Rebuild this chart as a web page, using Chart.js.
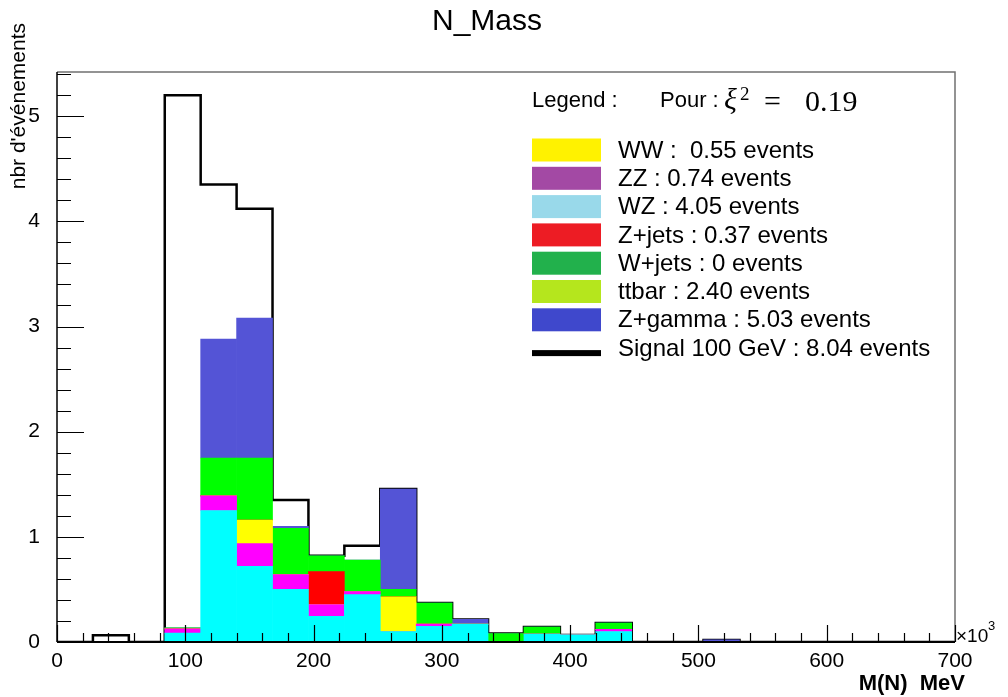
<!DOCTYPE html>
<html>
<head>
<meta charset="utf-8">
<script src="https://cdn.jsdelivr.net/npm/chart.js@4.4.1/dist/chart.umd.min.js"></script>
<style>
  html, body { margin: 0; padding: 0; background: #fff; }
</style>
</head>
<body>
<canvas id="c" width="1008" height="697"></canvas>
<script>
// lower edge of each bin (x in units of 10^3 MeV), last edge closes the histogram
const binLow = [0, 28, 56, 84, 112, 140, 168, 196, 224, 252, 280, 308, 336, 364, 392, 420, 448, 476, 504, 532, 560, 588, 616, 644, 672];
const binHigh = 700;
const binCenters = [14, 42, 70, 98, 126, 154, 182, 210, 238, 266, 294, 322, 350, 378, 406, 434, 462, 490, 518, 546, 574, 602, 630, 658, 686];

// background contributions, bottom of the stack first
const wz     = [0, 0, 0, 0.085, 1.25, 0.72, 0.50, 0.245, 0.45, 0.10, 0.15, 0.17, 0, 0.076, 0.067, 0.10, 0, 0, 0, 0, 0, 0, 0, 0, 0];
const zz     = [0, 0, 0, 0.04, 0.14, 0.215, 0.14, 0.11, 0.03, 0, 0.02, 0, 0, 0, 0, 0.02, 0, 0, 0, 0, 0, 0, 0, 0, 0];
const ww     = [0, 0, 0, 0, 0, 0.225, 0, 0, 0, 0.33, 0, 0, 0, 0, 0, 0, 0, 0, 0, 0, 0, 0, 0, 0, 0];
const zjets  = [0, 0, 0, 0, 0, 0, 0, 0.315, 0, 0, 0, 0, 0, 0, 0, 0, 0, 0, 0, 0, 0, 0, 0, 0, 0];
const wjets  = [0, 0, 0, 0, 0, 0, 0, 0, 0, 0, 0, 0, 0, 0, 0, 0, 0, 0, 0, 0, 0, 0, 0, 0, 0];
const ttbar  = [0, 0, 0, 0.01, 0.36, 0.59, 0.44, 0.15, 0.30, 0.07, 0.20, 0, 0.08, 0.067, 0, 0.06, 0, 0, 0, 0, 0, 0, 0, 0, 0];
const zgamma = [0, 0, 0, 0, 1.13, 1.33, 0.02, 0, 0, 0.955, 0, 0.045, 0, 0, 0, 0, 0, 0, 0.02, 0, 0, 0, 0, 0, 0];
// signal outline
const signal = [0, 0.065, 0, 5.2, 4.35, 4.12, 1.35, 0.82, 0.915, 1.455, 0.37, 0.215, 0.08, 0.143, 0.067, 0.18, 0, 0, 0.02, 0, 0, 0, 0, 0, 0];

const xTicks = [0, 100, 200, 300, 400, 500, 600, 700];
const yTicks = [0, 1, 2, 3, 4, 5];
const yMax = 5.42;

// legend, in the order it is printed
const legendNames  = ['WW', 'ZZ', 'WZ', 'Z+jets', 'W+jets', 'ttbar', 'Z+gamma', 'Signal 100 GeV'];
const legendTexts  = ['WW :  0.55 events', 'ZZ : 0.74 events', 'WZ : 4.05 events', 'Z+jets : 0.37 events',
                      'W+jets : 0 events', 'ttbar : 2.40 events', 'Z+gamma : 5.03 events', 'Signal 100 GeV : 8.04 events'];
const legendColors = ['#FFF200', '#A349A4', '#99D9EA', '#ED1C24', '#22B14C', '#B5E61D', '#3F48CC', '#000000'];

const SANS = '"Liberation Sans", Arial, sans-serif';
const SERIF = '"Liberation Serif", "Times New Roman", serif';

const stack = [
    { label: 'WZ', values: wz, color: '#00FFFF' },
    { label: 'ZZ', values: zz, color: '#FF00FF' },
    { label: 'WW', values: ww, color: '#FFFF00' },
    { label: 'Z+jets', values: zjets, color: '#FF0000' },
    { label: 'W+jets', values: wjets, color: '#00C000' },
    { label: 'ttbar', values: ttbar, color: '#00FF00' },
    { label: 'Z+gamma', values: zgamma, color: '#5454D6' },
];

// each point opens its bin; with stepped 'before' the level holds until the next edge
const signalPoints = binLow.map((x, i) => ({ x: x, y: signal[i] }));
signalPoints.push({ x: binHigh, y: 0 });

// ROOT-like frame, inner ticks, titles and the legend box
const rootStyle = {
    id: 'rootStyle',
    afterDraw(chart) {
        const { ctx, chartArea: a, scales } = chart;
        const xs = scales.x, ys = scales.y;
        ctx.save();

        ctx.strokeStyle = '#707070';
        ctx.lineWidth = 1.5;
        ctx.beginPath();
        ctx.moveTo(a.left, a.top);
        ctx.lineTo(a.right, a.top);
        ctx.lineTo(a.right, a.bottom);
        ctx.stroke();

        ctx.strokeStyle = '#000';
        ctx.lineWidth = 1.5;
        ctx.beginPath();
        ctx.moveTo(a.left, a.top);
        ctx.lineTo(a.left, a.bottom);
        ctx.stroke();
        ctx.lineWidth = 2;
        ctx.beginPath();
        ctx.moveTo(a.left, a.bottom);
        ctx.lineTo(a.right, a.bottom);
        ctx.stroke();

        ctx.lineWidth = 1.2;
        ctx.beginPath();
        for (let v = 0; v <= 700; v += 20) {
            const px = Math.round(xs.getPixelForValue(v)) + 0.5;
            const len = v % 100 === 0 ? 17 : 9;
            ctx.moveTo(px, a.bottom);
            ctx.lineTo(px, a.bottom - len);
        }
        for (let k = 0; k * 0.2 <= yMax; k++) {
            const py = Math.round(ys.getPixelForValue(k * 0.2)) + 0.5;
            const len = k % 5 === 0 ? 27 : 14;
            ctx.moveTo(a.left, py);
            ctx.lineTo(a.left + len, py);
        }
        ctx.stroke();

        ctx.fillStyle = '#000';
        ctx.textBaseline = 'alphabetic';

        ctx.font = '30px ' + SANS;
        ctx.textAlign = 'center';
        ctx.fillText('N_Mass', 487, 30);

        ctx.font = 'bold 22px ' + SANS;
        ctx.textAlign = 'right';
        ctx.fillText('M(N)  MeV', 965, 690);

        ctx.textAlign = 'left';
        ctx.font = '19px ' + SANS;
        ctx.fillText('\u00d710', 956, 642);
        ctx.font = '13px ' + SANS;
        ctx.fillText('3', 988, 630);

        ctx.save();
        ctx.translate(19, 23);
        ctx.rotate(-Math.PI / 2);
        ctx.font = '21px ' + SANS;
        ctx.textAlign = 'right';
        ctx.textBaseline = 'middle';
        ctx.fillText("nbr d'\u00e9v\u00e9nements", 0, 0);
        ctx.restore();

        // legend header
        ctx.textAlign = 'left';
        ctx.font = '22px ' + SANS;
        ctx.fillText('Legend :', 532, 107);
        ctx.fillText('Pour :', 660, 107);
        ctx.font = 'italic 30px ' + SERIF;
        ctx.fillText('\u03be', 724, 109);
        ctx.font = '19px ' + SERIF;
        ctx.fillText('2', 740, 100);
        ctx.font = '30px ' + SERIF;
        ctx.fillText('=', 764, 111);
        ctx.fillText('0.19', 805, 111);

        // legend entries
        ctx.font = '24px ' + SANS;
        ctx.textBaseline = 'middle';
        legendTexts.forEach((t, i) => {
            const cy = 150 + i * 28.3;
            ctx.fillStyle = legendColors[i];
            if (legendNames[i].startsWith('Signal')) {
                ctx.fillRect(532, cy + 2, 69, 6);
            } else {
                ctx.fillRect(532, cy - 11.5, 69, 23);
            }
            ctx.fillStyle = '#000';
            ctx.fillText(t, 618, cy + 1);
        });

        ctx.restore();
    }
};

new Chart(document.getElementById('c'), {
    type: 'bar',
    data: {
        datasets: [
            ...stack.map(s => ({
                type: 'bar',
                label: s.label,
                data: binCenters.map((x, i) => ({ x: x, y: s.values[i] })),
                backgroundColor: s.color,
                borderWidth: 0,
                barPercentage: 1,
                categoryPercentage: 1,
            })),
            {
                type: 'line',
                label: 'Signal 100 GeV',
                data: signalPoints,
                yAxisID: 'ys',
                stepped: 'before',
                borderColor: '#000',
                borderWidth: 2.5,
                pointRadius: 0,
                fill: false,
            },
        ],
    },
    options: {
        responsive: false,
        animation: false,
        devicePixelRatio: 1,
        events: [],
        layout: { padding: { left: 0, top: 72, right: 53, bottom: 0 } },
        plugins: {
            legend: { display: false },
            title: { display: false },
            tooltip: { enabled: false },
        },
        scales: {
            x: {
                type: 'linear',
                min: 0,
                max: 700,
                stacked: true,
                offset: false,
                grid: { display: false, offset: false },
                border: { display: false },
                afterBuildTicks: s => { s.ticks = xTicks.map(v => ({ value: v })); },
                afterFit: s => { s.height = 55; },
                ticks: {
                    padding: -1,
                    color: '#000',
                    font: { family: SANS, size: 21 },
                    maxRotation: 0,
                    autoSkip: false,
                },
            },
            y: {
                type: 'linear',
                min: 0,
                max: yMax,
                stacked: true,
                grid: { display: false },
                border: { display: false },
                afterBuildTicks: s => { s.ticks = yTicks.map(v => ({ value: v })); },
                afterFit: s => { s.width = 57; },
                ticks: {
                    padding: 9,
                    color: '#000',
                    font: { family: SANS, size: 21 },
                },
            },
            ys: {
                type: 'linear',
                display: false,
                min: 0,
                max: yMax,
            },
        },
    },
    plugins: [rootStyle],
});
</script>
</body>
</html>
